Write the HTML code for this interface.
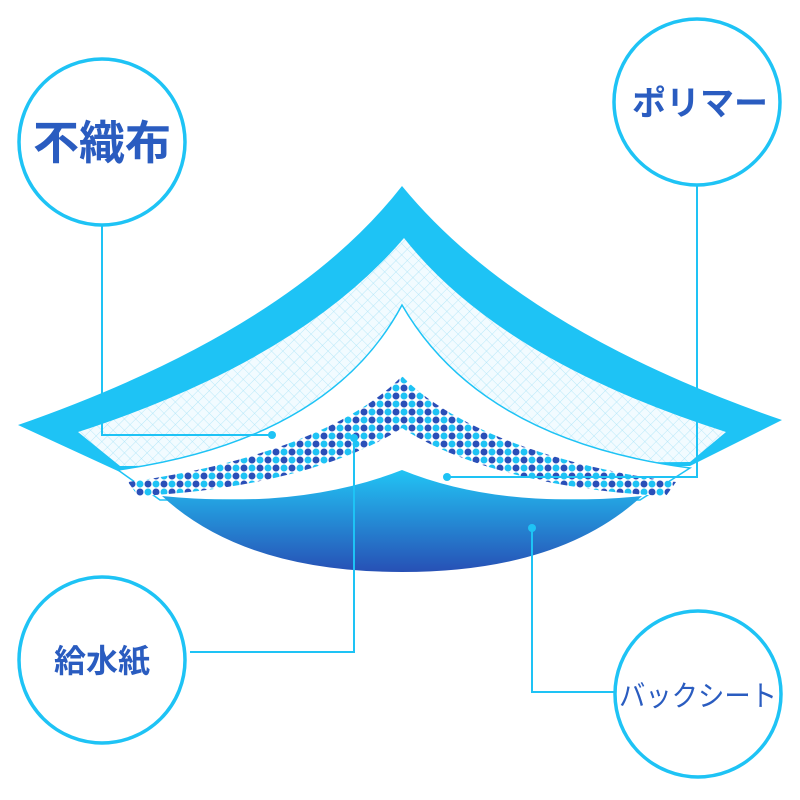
<!DOCTYPE html>
<html><head><meta charset="utf-8"><style>
html,body{margin:0;padding:0;background:#fff;}
svg{display:block}
text{font-family:"Liberation Sans","Noto Sans CJK JP",sans-serif;fill:#2a5cc0;}
</style></head><body>
<svg width="800" height="800" viewBox="0 0 800 800" xmlns="http://www.w3.org/2000/svg">
<defs>
<pattern id="mesh" width="8" height="8" patternUnits="userSpaceOnUse" patternTransform="rotate(45)">
<rect width="8" height="8" fill="#f2fbff"/>
<path d="M0 0H8M0 0V8" stroke="#a8e4f8" stroke-width="0.8"/>
</pattern>
<pattern id="dots" width="16" height="16" patternUnits="userSpaceOnUse">
<rect width="16" height="16" fill="#fff"/>
<circle cx="4" cy="4" r="3.5" fill="#2a4fb8"/>
<circle cx="12" cy="12" r="3.5" fill="#2a4fb8"/>
<circle cx="12" cy="4" r="3.5" fill="#1ec3f5"/>
<circle cx="4" cy="12" r="3.5" fill="#1ec3f5"/>
</pattern>
<linearGradient id="bg" x1="0" y1="0" x2="0" y2="1">
<stop offset="0" stop-color="#22c4f4"/>
<stop offset="1" stop-color="#2750b5"/>
</linearGradient>
</defs>

<path d="M402 186 Q520 330 782 420 L690 466 L120 472 L18 425 Q290 330 402 186Z" fill="#1ec3f5"/>
<path d="M404 238 Q500 360 726 432 L690 462 L120 466 L78 432 Q300 360 404 238Z" fill="url(#mesh)"/>
<path d="M402 305 Q480 440 690 468 L640 500 L160 500 L118 470 Q330 440 402 305Z" fill="#fff" stroke="#1ec3f5" stroke-width="1.5"/>
<path d="M402 376 C355 425 255 465 128 482 L138 496 C260 490 350 462 402 428 C454 462 544 490 666 496 L676 482 C549 465 449 425 402 376Z" fill="url(#dots)"/>
<path d="M402 470 Q500 510 642 496 Q560 572 402 572 Q244 572 162 496 Q300 510 402 470Z" fill="url(#bg)"/>

<g stroke="#1ec3f5" stroke-width="2" fill="none">
<path d="M102 225 V435 H272"/>
<path d="M697 185 V477 H447"/>
<path d="M190 652 H354 V438"/>
<path d="M532 528 V692 H615"/>
</g>
<g fill="#1ec3f5">
<circle cx="272" cy="435" r="4"/>
<circle cx="447" cy="477" r="4"/>
<circle cx="354" cy="438" r="4"/>
<circle cx="532" cy="528" r="4"/>
</g>

<g fill="#fff" stroke="#1ec3f5" stroke-width="3.5">
<circle cx="102" cy="142" r="83"/>
<circle cx="697" cy="102" r="83"/>
<circle cx="102" cy="660" r="83"/>
<circle cx="698" cy="694" r="83"/>
</g>
<text x="102" y="159" font-size="46" font-weight="bold" text-anchor="middle">不織布</text>
<text x="700" y="115" font-size="34" font-weight="bold" text-anchor="middle">ポリマー</text>
<text x="102" y="672" font-size="32" font-weight="bold" text-anchor="middle">給水紙</text>
<text x="698" y="706" font-size="29" text-anchor="middle" textLength="158" lengthAdjust="spacingAndGlyphs">バックシート</text>
</svg>
</body></html>
